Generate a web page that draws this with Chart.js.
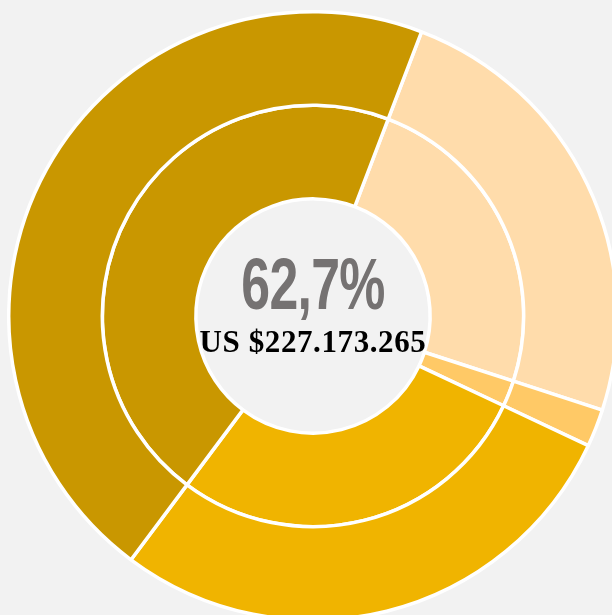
<!DOCTYPE html>
<html>
<head>
<meta charset="utf-8">
<script src="https://cdn.jsdelivr.net/npm/chart.js@4"></script>
<style>
  html, body { margin: 0; padding: 0; background: #f2f2f2; overflow: hidden; width: 612px; height: 615px; }
  #wrap { position: absolute; left: 7px; top: 10px; width: 612px; height: 612px; }
  .center { position: absolute; left: 0; width: 626px; text-align: center; white-space: nowrap; }
  #pct { top: 243px; font-family: "Liberation Sans", sans-serif; font-weight: bold;
         font-size: 72px; color: #757272; transform: scaleX(0.72); letter-spacing: -1px; }
  #amount { top: 324px; font-family: "Liberation Serif", serif; font-weight: bold; font-size: 31px;
            color: #000; letter-spacing: 0.6px; }
</style>
</head>
<body>
<div id="wrap"><canvas id="donut"></canvas></div>
<div class="center" id="pct">62,7%</div>
<div class="center" id="amount">US $227.173.265</div>
<script>
// segments, clockwise starting at the peach slice
const segments = ['Segmento 1', 'Segmento 2', 'Segmento 3', 'Segmento 4'];
const outerValues = [24.2, 2.0, 28.2, 45.6];
const innerValues = [24.2, 2.0, 28.2, 45.6];
const segmentColors = ['#ffdcab', '#ffc966', '#f0b400', '#c99700'];

const ctx = document.getElementById('donut').getContext('2d');
new Chart(ctx, {
  type: 'doughnut',
  data: {
    labels: segments,
    datasets: [
      { data: outerValues, backgroundColor: segmentColors, borderColor: '#ffffff', borderWidth: 3.5 },
      { data: innerValues, backgroundColor: segmentColors, borderColor: '#ffffff', borderWidth: 3.5 }
    ]
  },
  options: {
    responsive: true,
    maintainAspectRatio: false,
    animation: false,
    rotation: 20.9,
    cutout: '38.5%',
    plugins: {
      legend: { display: false },
      tooltip: { enabled: false }
    }
  }
});
</script>
</body>
</html>
